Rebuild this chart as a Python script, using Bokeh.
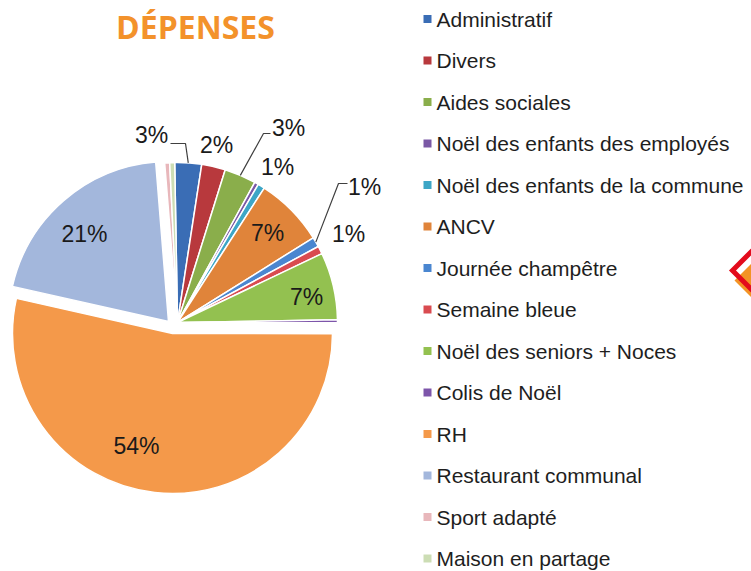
import math
from bokeh.plotting import figure
from bokeh.models import ColumnDataSource, Range1d
from bokeh.core.properties import value
from bokeh.embed import file_html
from bokeh.resources import INLINE

# ---------------- data ----------------
categories = [
    "Administratif", "Divers", "Aides sociales", "Noël des enfants des employés",
    "Noël des enfants de la commune", "ANCV", "Journée champêtre", "Semaine bleue",
    "Noël des seniors + Noces", "Colis de Noël", "RH", "Restaurant communal",
    "Sport adapté", "Maison en partage",
]
shares = [2.7, 2.4, 3.2, 0.4, 0.7, 7.0, 1.0, 0.8, 6.8, 0.3, 53.5, 20.2, 0.5, 0.5]
pct_labels = ["3%", "2%", "3%", "", "1%", "7%", "1%", "1%", "7%", "", "54%", "21%", "", ""]
colors = [
    "#3A6DB5", "#B8393D", "#8AAE4B", "#7A58A5", "#3DA6C6", "#E0843A", "#4A86D0",
    "#D94B50", "#93C150", "#7D55AA", "#F4994A", "#A3B7DC", "#E8B7BB", "#CCDDB4",
]
title_text = "DÉPENSES"

# ---------------- layout / style ----------------
W, H, M = 751, 571, 0
def X(x):
    return x - M
def Y(y):
    return H - (y - M)

CX, CY, R = 177, 322, 160
START_DEG = -1.0
explode = {"RH": (-5, 11), "Restaurant communal": (-9, -1)}
label_pos = [(151, 134), (216, 144), (288, 127), None, (277, 166), (267, 232),
             (364, 186), (348, 233), (306, 296), None, (136, 445), (84, 233), None, None]
leader_stub = {0: [(170, 143), (185, 143)], 2: [(270, 133), (263, 133)], 6: [(347, 183), (338, 183)]}

p = figure(width=W, height=H, x_range=Range1d(0, W), y_range=Range1d(0, H),
           output_backend="svg", toolbar_location=None, min_border=0,
           x_axis_type=None, y_axis_type=None)
p.grid.visible = False
p.outline_line_color = None
p.background_fill_color = "white"
p.border_fill_color = "white"

total = sum(shares)
cum = 0.0
xs, ys, sa, ea, mids = [], [], [], [], []
for cat, v in zip(categories, shares):
    t0 = math.radians(START_DEG) + 2 * math.pi * cum / total
    cum += v
    t1 = math.radians(START_DEG) + 2 * math.pi * cum / total
    dx, dy = explode.get(cat, (0, 0))
    xs.append(X(CX + dx))
    ys.append(Y(CY + dy))
    sa.append(math.pi / 2 - t1)
    ea.append(math.pi / 2 - t0)
    mids.append((t0 + t1) / 2)

src = ColumnDataSource(dict(x=xs, y=ys, start=sa, end=ea, color=colors, cat=categories))
p.wedge(x="x", y="y", radius=R, start_angle="start", end_angle="end",
        direction="anticlock", fill_color="color", line_color="white", line_width=1.5,
        source=src)

# leader lines
for i, stub in leader_stub.items():
    rx = CX + R * math.sin(mids[i])
    ry = CY - R * math.cos(mids[i])
    pts = stub + [(rx, ry)]
    p.line([X(a) for a, b in pts], [Y(b) for a, b in pts], line_color="#404040", line_width=1.2)

# percentage labels
lx, ly, lt = [], [], []
for lab, pos in zip(pct_labels, label_pos):
    if lab and pos:
        lx.append(X(pos[0])); ly.append(Y(pos[1])); lt.append(lab)
p.text(x=lx, y=ly, text=lt, text_font=value("Liberation Sans"), text_font_size="23px",
       text_align="center", text_baseline="middle", text_color="#1A1A1A")

# title
p.text(x=[X(195)], y=[Y(26)], text=[title_text], text_font=value("Open Sans"),
       text_font_style="bold", text_font_size="32px", text_align="center",
       text_baseline="middle", text_color="#F3922B")

# legend
LEG_X, LEG_Y0, LEG_DY = 427, 18.5, 41.5
leg_y = [Y(LEG_Y0 + i * LEG_DY) for i in range(len(categories))]
p.scatter(x=[X(LEG_X)] * len(categories), y=leg_y, marker="square", size=8,
          fill_color=colors, line_color=None)
p.text(x=[X(LEG_X + 9)] * len(categories), y=leg_y, text=categories,
       text_font=value("Liberation Sans"), text_font_size="21px", text_align="left",
       text_baseline="middle", text_color="#1E1E1E")

# decorative diamond at right edge
p.patch([X(734), X(780), X(826), X(780)], [Y(280), Y(234), Y(280), Y(326)],
        fill_color="#F39325", line_color=None)
p.patch([X(732), X(772), X(812), X(772)], [Y(270), Y(230), Y(270), Y(310)],
        fill_color=None, line_color="#E30B1C", line_width=5, line_join="miter")

open("out.html", "w").write(file_html(p, INLINE))
